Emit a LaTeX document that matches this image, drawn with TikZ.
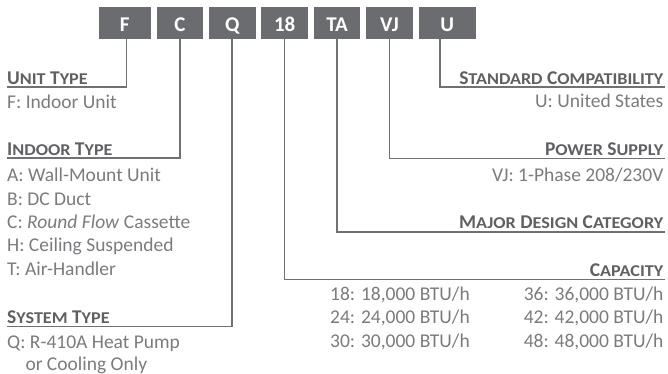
\documentclass[tikz,border=0pt]{standalone}
\usepackage{fontspec}
\setmainfont{Carlito}
\newfontfamily\widecap[FakeStretch=1.1]{Carlito}
\usetikzlibrary{positioning}
\definecolor{boxgray}{HTML}{6B6C6F}
\definecolor{headgray}{HTML}{5F6063}
\definecolor{textgray}{HTML}{7A7B7E}
\definecolor{linegray}{HTML}{707174}
\newcommand\lowcap[1]{{\widecap\bfseries\fontsize{16.5}{16.5}\selectfont #1}} % fake small caps
\newcommand\boxfont{\fontsize{21}{21}\selectfont\bfseries} % letters in the boxes
\begin{document}
\begin{tikzpicture}[x=1pt,y=-1pt] % model code
\tikzstyle{codebox} = [fill=boxgray, minimum width=46.5pt, minimum height=32.5pt, inner sep=0pt, text=white, font=\boxfont, text height=18pt, text depth=0pt] % letter box style
\tikzstyle{leader} = [draw=linegray, line width=1.6pt] % connector style
\tikzstyle{head} = [inner sep=0pt, text=headgray, font=\fontsize{19.5}{19.5}\bfseries\selectfont] % heading style
\tikzstyle{body} = [inner sep=0pt, text=textgray, font=\fontsize{19.5}{23.3}\selectfont] % description style
\useasboundingbox (0,0) rectangle (668,374);
% boxes
\node[codebox, minimum width=52.2pt, anchor=north west] (boxF) at (98.3,6.5) {F};
\node[codebox, right=5.5pt of boxF] (boxC) {C};
\node[codebox, right=5.5pt of boxC] (boxQ) {Q};
\node[codebox, right=5.5pt of boxQ] (box18) {18};
\node[codebox, right=5.5pt of box18] (boxTA) {TA};
\node[codebox, right=5.5pt of boxTA] (boxVJ) {VJ};
\node[codebox, minimum width=57pt, right=5.5pt of boxVJ] (boxU) {U};
% ends of the connectors
\coordinate (eUnit) at (7,87);
\coordinate (eIndoor) at (7,158);
\coordinate (eSystem) at (7,326.5);
\coordinate (eStd) at (665,87);
\coordinate (ePower) at (665,158.5);
\coordinate (eMajor) at (665,231.7);
\coordinate (eCap) at (665,279.5);
% left side
\node[head, anchor=base west] (unitHead) at (7,84.5) {U\lowcap{NIT} T\lowcap{YPE}};
\node[body, anchor=base west] (unitF) at (7,108.5) {F: Indoor Unit};
\node[head, anchor=base west] (indoorHead) at (7,155.5) {I\lowcap{NDOOR} T\lowcap{YPE}};
\node[body, anchor=base west] (indoorA) at (7,181.7) {A: Wall-Mount Unit};
\node[body, anchor=base west] (indoorB) at (7,205) {B: DC Duct};
\node[body, anchor=base west] (indoorC) at (7,228.3) {C: \textit{Round Flow} Cassette};
\node[body, anchor=base west] (indoorH) at (7,251.6) {H: Ceiling Suspended};
\node[body, anchor=base west] (indoorT) at (7,275) {T: Air-Handler};
\node[head, anchor=base west] (systemHead) at (7,323.5) {S\lowcap{YSTEM} T\lowcap{YPE}};
\node[body, anchor=base west] (systemQ) at (7,348.3) {Q: R-410A Heat Pump};
\node[body, anchor=base west] (systemQb) at (25.3,370.5) {or Cooling Only};
% right side
\node[head, anchor=base east] (stdHead) at (663.5,84.5) {S\lowcap{TANDARD} C\lowcap{OMPATIBILITY}};
\node[body, anchor=base east] (stdU) at (663.5,108) {U: United States};
\node[head, anchor=base east] (powerHead) at (663.5,156) {P\lowcap{OWER} S\lowcap{UPPLY}};
\node[body, anchor=base east] (powerVJ) at (663.5,181.7) {VJ: 1-Phase 208/230V};
\node[head, anchor=base east] (majorHead) at (663.5,228.7) {M\lowcap{AJOR} D\lowcap{ESIGN} C\lowcap{ATEGORY}};
\node[head, anchor=base east] (capHead) at (663.5,276.5) {C\lowcap{APACITY}};
\node[body, anchor=base west] (cap18) at (330,300) {18: 18,000 BTU/h};
\node[body, anchor=base west] (cap24) at (330,323.5) {24: 24,000 BTU/h};
\node[body, anchor=base west] (cap30) at (330,347) {30: 30,000 BTU/h};
\node[body, anchor=base east] (cap36) at (663.5,300) {36: 36,000 BTU/h};
\node[body, anchor=base east] (cap42) at (663.5,323.5) {42: 42,000 BTU/h};
\node[body, anchor=base east] (cap48) at (663.5,347) {48: 48,000 BTU/h};
% connectors
\draw[leader] ([xshift=2pt]boxF.south) |- (eUnit);
\draw[leader] (boxC.south) |- (eIndoor);
\draw[leader] (boxQ.south) |- (eSystem);
\draw[leader] (box18.south) |- (eCap);
\draw[leader] (boxTA.south) |- (eMajor);
\draw[leader] (boxVJ.south) |- (ePower);
\draw[leader] ([xshift=-7pt]boxU.south) |- (eStd);
\end{tikzpicture}
\end{document}
